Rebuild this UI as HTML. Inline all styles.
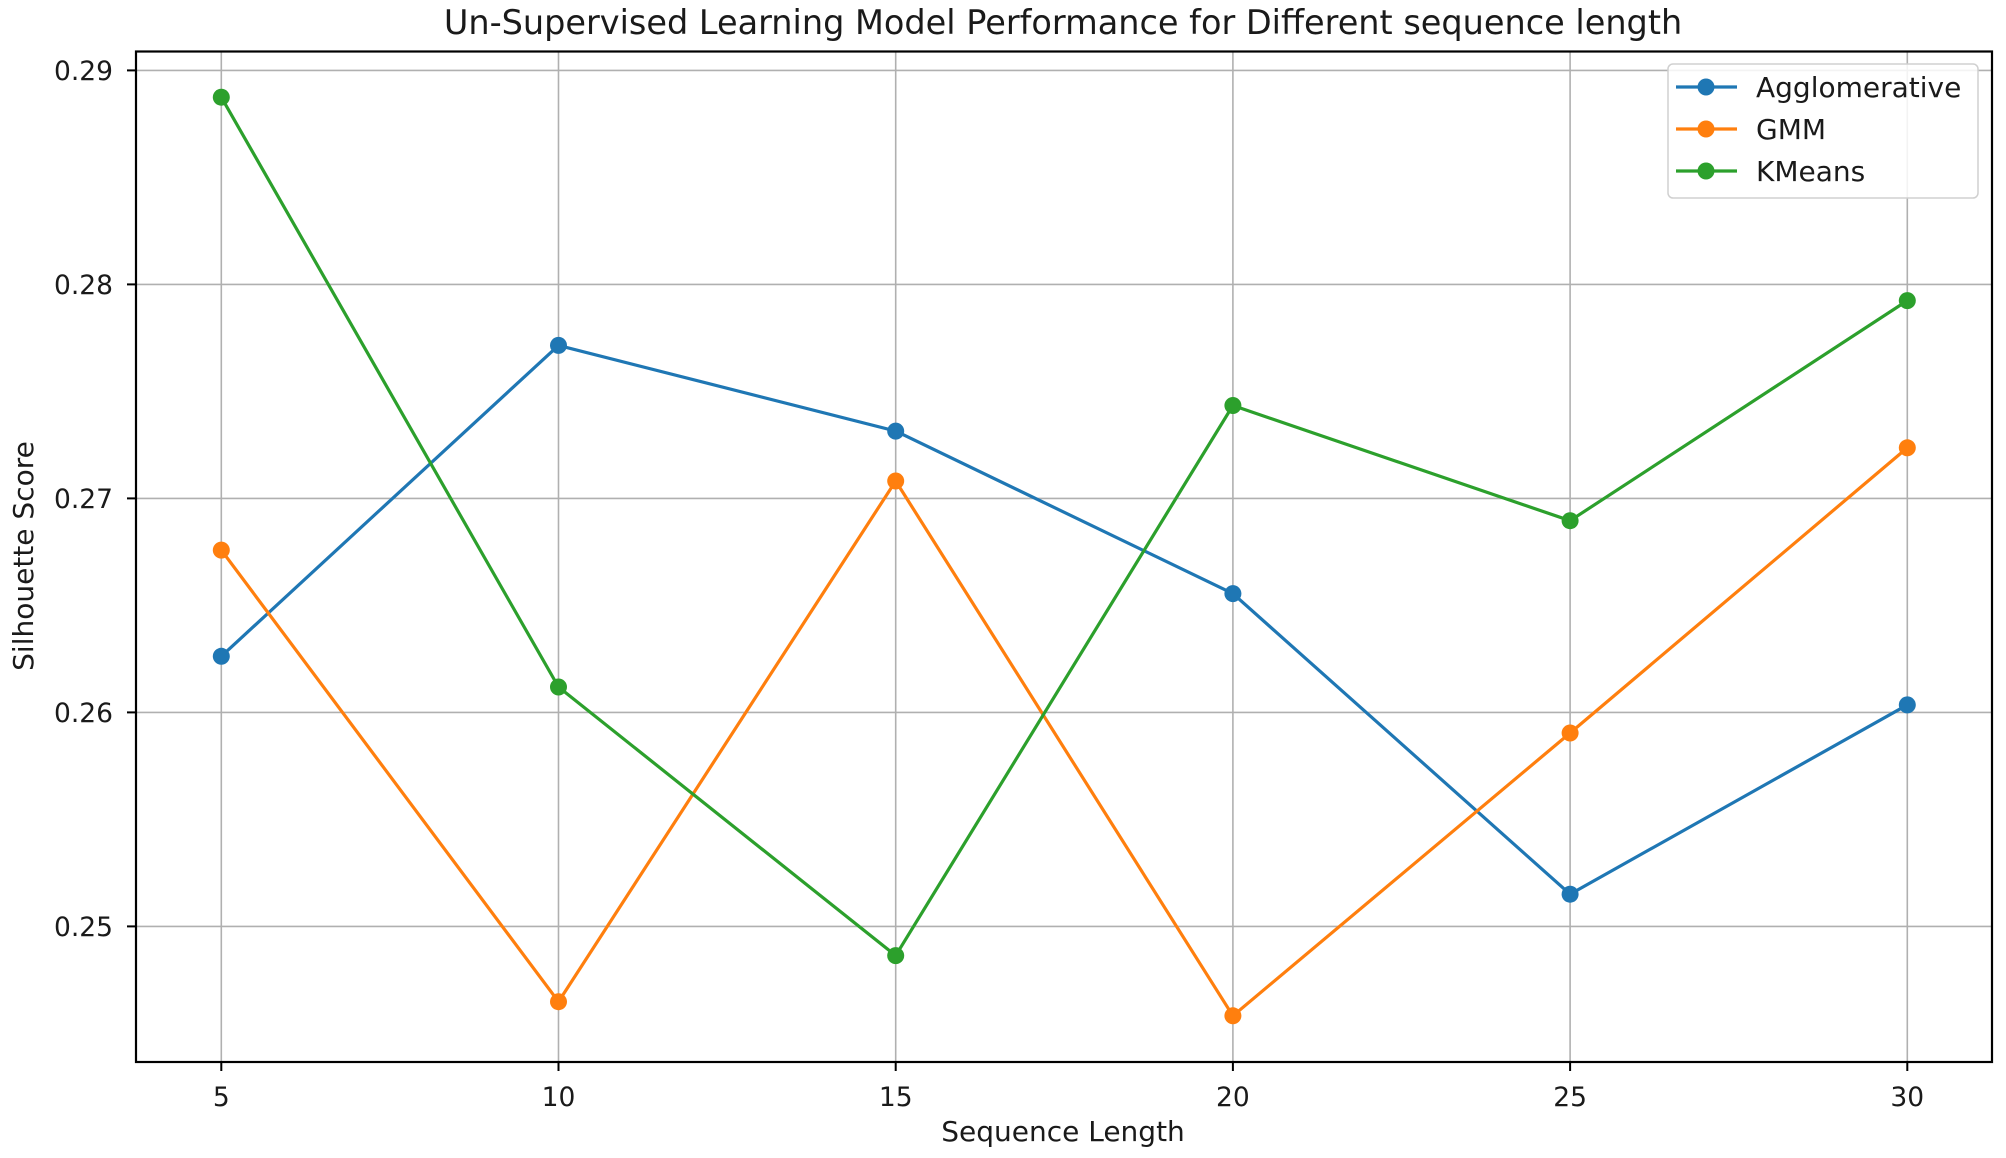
<!DOCTYPE html>
<html><head><meta charset="utf-8"><style>
html,body{margin:0;padding:0;background:#fff;}
svg{display:block;font-family:"DejaVu Sans","Liberation Sans",sans-serif;}
</style></head><body>
<svg width="2006" height="1158" viewBox="0 0 2006 1158" xmlns="http://www.w3.org/2000/svg">
<rect width="2006" height="1158" fill="#fff"/>
<g stroke="#b0b0b0" stroke-width="1.6">
<line x1="221.3" y1="51" x2="221.3" y2="1062"/>
<line x1="558.5" y1="51" x2="558.5" y2="1062"/>
<line x1="895.7" y1="51" x2="895.7" y2="1062"/>
<line x1="1232.9" y1="51" x2="1232.9" y2="1062"/>
<line x1="1570.1" y1="51" x2="1570.1" y2="1062"/>
<line x1="1907.3" y1="51" x2="1907.3" y2="1062"/>
<line x1="136" y1="70.4" x2="1992" y2="70.4"/>
<line x1="136" y1="284.4" x2="1992" y2="284.4"/>
<line x1="136" y1="498.4" x2="1992" y2="498.4"/>
<line x1="136" y1="712.4" x2="1992" y2="712.4"/>
<line x1="136" y1="926.4" x2="1992" y2="926.4"/>
</g>
<g fill="none" stroke-width="3.2" stroke-linejoin="round">
<polyline stroke="#1f77b4" points="221.3,656.3 558.5,345.4 895.7,431.1 1232.9,593.6 1570.1,894.2 1907.3,704.9"/>
<polyline stroke="#ff7f0e" points="221.3,550.1 558.5,1001.7 895.7,481.0 1232.9,1015.8 1570.1,733.0 1907.3,447.8"/>
<polyline stroke="#2ca02c" points="221.3,97.2 558.5,687.0 895.7,955.6 1232.9,405.5 1570.1,520.7 1907.3,300.6"/>
</g>
<g fill="#1f77b4"><circle cx="221.3" cy="656.3" r="8.5"/><circle cx="558.5" cy="345.4" r="8.5"/><circle cx="895.7" cy="431.1" r="8.5"/><circle cx="1232.9" cy="593.6" r="8.5"/><circle cx="1570.1" cy="894.2" r="8.5"/><circle cx="1907.3" cy="704.9" r="8.5"/></g>
<g fill="#ff7f0e"><circle cx="221.3" cy="550.1" r="8.5"/><circle cx="558.5" cy="1001.7" r="8.5"/><circle cx="895.7" cy="481.0" r="8.5"/><circle cx="1232.9" cy="1015.8" r="8.5"/><circle cx="1570.1" cy="733.0" r="8.5"/><circle cx="1907.3" cy="447.8" r="8.5"/></g>
<g fill="#2ca02c"><circle cx="221.3" cy="97.2" r="8.5"/><circle cx="558.5" cy="687.0" r="8.5"/><circle cx="895.7" cy="955.6" r="8.5"/><circle cx="1232.9" cy="405.5" r="8.5"/><circle cx="1570.1" cy="520.7" r="8.5"/><circle cx="1907.3" cy="300.6" r="8.5"/></g>
<rect x="136" y="51.5" width="1856" height="1010.5" fill="none" stroke="#000" stroke-width="2.2"/>
<g stroke="#000" stroke-width="2">
<line x1="221.3" y1="1062" x2="221.3" y2="1071"/><line x1="558.5" y1="1062" x2="558.5" y2="1071"/><line x1="895.7" y1="1062" x2="895.7" y2="1071"/><line x1="1232.9" y1="1062" x2="1232.9" y2="1071"/><line x1="1570.1" y1="1062" x2="1570.1" y2="1071"/><line x1="1907.3" y1="1062" x2="1907.3" y2="1071"/>
<line x1="127" y1="70.4" x2="136" y2="70.4"/><line x1="127" y1="284.4" x2="136" y2="284.4"/><line x1="127" y1="498.4" x2="136" y2="498.4"/><line x1="127" y1="712.4" x2="136" y2="712.4"/><line x1="127" y1="926.4" x2="136" y2="926.4"/>
</g>
<g font-size="26.5" fill="#1a1a1a" text-anchor="middle">
<text x="221.3" y="1106">5</text><text x="558.5" y="1106">10</text><text x="895.7" y="1106">15</text><text x="1232.9" y="1106">20</text><text x="1570.1" y="1106">25</text><text x="1907.3" y="1106">30</text>
</g>
<g font-size="26.5" fill="#1a1a1a" text-anchor="end">
<text x="113" y="80">0.29</text><text x="113" y="294">0.28</text><text x="113" y="508">0.27</text><text x="113" y="722">0.26</text><text x="113" y="936">0.25</text>
</g>
<text x="1063" y="1141" font-size="28" fill="#1a1a1a" text-anchor="middle">Sequence Length</text>
<text transform="translate(33,556) rotate(-90)" font-size="28" fill="#1a1a1a" text-anchor="middle">Silhouette Score</text>
<text x="1063" y="34" font-size="33.5" fill="#1a1a1a" text-anchor="middle">Un-Supervised Learning Model Performance for Different sequence length</text>
<rect x="1668" y="64" width="310" height="134" rx="5" fill="#fff" fill-opacity="0.85" stroke="#d0d0d0" stroke-width="1.5"/>
<g stroke-width="3.2">
<line x1="1676" y1="87" x2="1737" y2="87" stroke="#1f77b4"/><circle cx="1706" cy="87" r="8.5" fill="#1f77b4"/>
<line x1="1676" y1="129" x2="1737" y2="129" stroke="#ff7f0e"/><circle cx="1706" cy="129" r="8.5" fill="#ff7f0e"/>
<line x1="1676" y1="171" x2="1737" y2="171" stroke="#2ca02c"/><circle cx="1706" cy="171" r="8.5" fill="#2ca02c"/>
</g>
<g font-size="28" fill="#1a1a1a">
<text x="1756" y="97">Agglomerative</text><text x="1756" y="139">GMM</text><text x="1756" y="181">KMeans</text>
</g>
</svg>
</body></html>
